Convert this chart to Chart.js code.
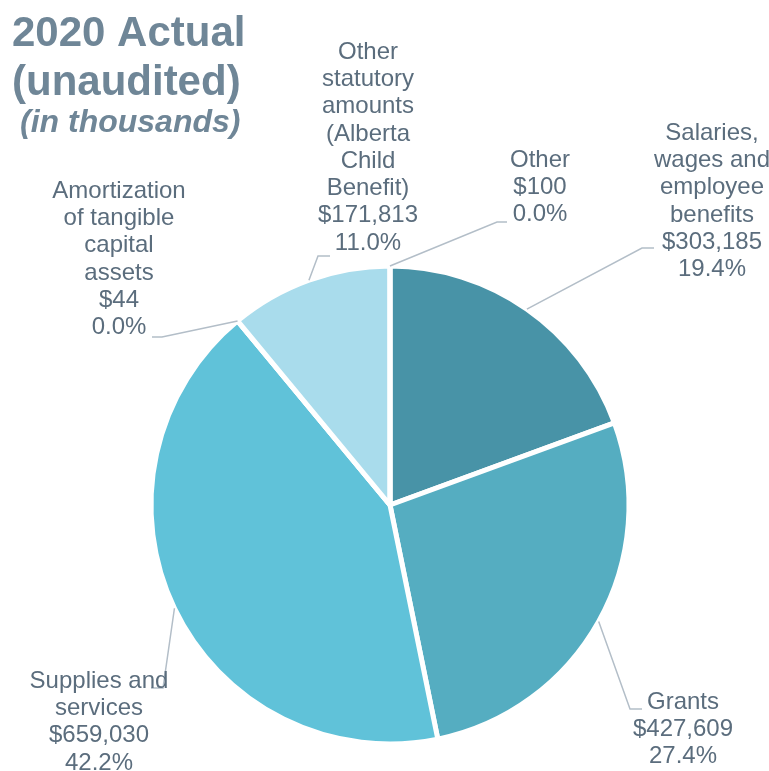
<!DOCTYPE html>
<html>
<head>
<meta charset="utf-8">
<script src="https://cdn.jsdelivr.net/npm/chart.js@4.4.1/dist/chart.umd.min.js"></script>
<style>
  html, body { margin: 0; padding: 0; background: #fff; }
  #wrap { width: 769px; height: 771px; }
</style>
</head>
<body>
<div id="wrap"><canvas id="chart" width="769" height="771"></canvas></div>
<script>
// Expense categories (clockwise from 12 o'clock)
const categories = [
  'Salaries, wages and employee benefits',
  'Grants',
  'Supplies and services',
  'Amortization of tangible capital assets',
  'Other statutory amounts (Alberta Child Benefit)',
  'Other'
];
// 2020 actual, in thousands of dollars
const amounts = [303185, 427609, 659030, 44, 171813, 100];
// how each category name wraps in the label
const labelLines = [
  ['Salaries,', 'wages and', 'employee', 'benefits'],
  ['Grants'],
  ['Supplies and', 'services'],
  ['Amortization', 'of tangible', 'capital', 'assets'],
  ['Other', 'statutory', 'amounts', '(Alberta', 'Child', 'Benefit)'],
  ['Other']
];
const titleLines = ['2020 Actual', '(unaudited)'];
const subtitleText = '(in thousands)';

const sliceColors = ['#4893a7', '#55adc1', '#60c2d9', '#60c2d9', '#a9dcec', '#a9dcec'];
const textColor = '#5b6d7d';
const titleColor = '#6f8697';
const leaderColor = '#b3bec8';
const fontFamily = '"Liberation Sans", Arial, sans-serif';

// label placement relative to the pie centre: first text line, elbow and end of leader line
const labelPlace = [
  { text: [322, -372], elbow: [252, -257], end: [264, -257] },
  { text: [293, 197],  elbow: [240, 204],  end: [252, 204] },
  { text: [-291, 176], elbow: [-227, 183], end: [-239, 183] },
  { text: [-271, -314], elbow: [-228, -168], end: [-238, -168] },
  { text: [-22, -453], elbow: [-72, -249], end: [-60, -249] },
  { text: [150, -345], elbow: [107, -283], end: [117, -283] }
];

const total = amounts.reduce((a, b) => a + b, 0);

const titlePlugin = {
  id: 'titleBlock',
  afterDraw(chart) {
    const ctx = chart.ctx;
    ctx.save();
    ctx.fillStyle = titleColor;
    ctx.textAlign = 'left';
    ctx.textBaseline = 'alphabetic';
    ctx.font = 'bold 42px ' + fontFamily;
    ctx.fillText(titleLines[0], 12, 46);
    ctx.fillText(titleLines[1], 12, 95);
    ctx.font = 'italic bold 32px ' + fontFamily;
    ctx.fillText(subtitleText, 20, 132);
    ctx.restore();
  }
};

const labelPlugin = {
  id: 'sliceLabels',
  afterDatasetsDraw(chart) {
    const ctx = chart.ctx;
    const arcs = chart.getDatasetMeta(0).data;
    ctx.save();
    arcs.forEach((arc, i) => {
      const { x, y, startAngle, endAngle, outerRadius } = arc.getProps(['x', 'y', 'startAngle', 'endAngle', 'outerRadius'], true);
      const mid = (startAngle + endAngle) / 2;
      const p = labelPlace[i];
      const sx = x + Math.cos(mid) * outerRadius;
      const sy = y + Math.sin(mid) * outerRadius;
      ctx.strokeStyle = leaderColor;
      ctx.lineWidth = 1.5;
      ctx.beginPath();
      ctx.moveTo(sx, sy);
      ctx.lineTo(x + p.elbow[0], y + p.elbow[1]);
      ctx.lineTo(x + p.end[0], y + p.end[1]);
      ctx.stroke();

      const lines = labelLines[i].concat([
        '$' + amounts[i].toLocaleString('en-US'),
        (amounts[i] / total * 100).toFixed(1) + '%'
      ]);
      ctx.fillStyle = textColor;
      ctx.font = '24px ' + fontFamily;
      ctx.textAlign = 'center';
      ctx.textBaseline = 'middle';
      lines.forEach((t, k) => {
        ctx.fillText(t, x + p.text[0], y + p.text[1] + k * 27.3);
      });
    });
    ctx.restore();
  }
};

new Chart(document.getElementById('chart'), {
  type: 'pie',
  data: {
    labels: categories,
    datasets: [{
      data: amounts,
      backgroundColor: sliceColors,
      borderColor: '#ffffff',
      borderWidth: 5,
      radius: 239
    }]
  },
  options: {
    responsive: false,
    animation: false,
    layout: { padding: { top: 239, left: 11, right: 0, bottom: 0 } },
    plugins: {
      legend: { display: false },
      tooltip: { enabled: false },
      title: { display: false }
    }
  },
  plugins: [labelPlugin, titlePlugin]
});
</script>
</body>
</html>
